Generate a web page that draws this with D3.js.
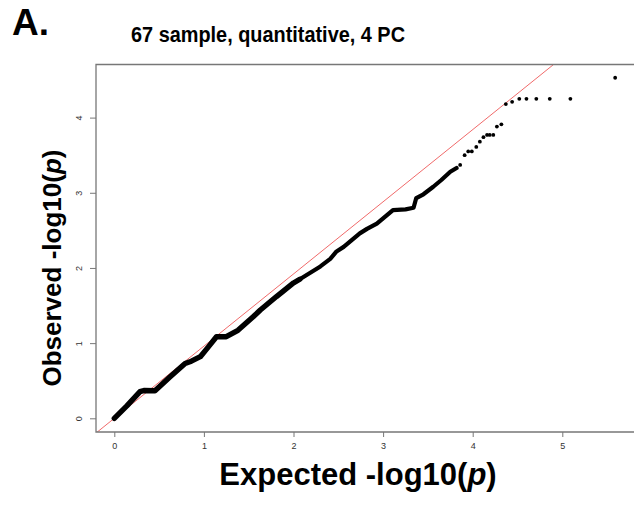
<!DOCTYPE html>
<html><head><meta charset="utf-8">
<script src="https://cdn.jsdelivr.net/npm/d3@7"></script>
<style>body{margin:0;background:#fff}svg{display:block}</style>
</head><body>
<svg id="c" width="634" height="506"></svg>
<script>
// ---- data ----
const xTicks = [0, 1, 2, 3, 4, 5];
const yTicks = [0, 1, 2, 3, 4];
// dense part of the QQ curve (expected, observed)
const denseExpected = [0, 0.14, 0.287, 0.33, 0.454, 0.62, 0.79, 0.86, 0.96, 1.05, 1.14, 1.25, 1.38, 1.55, 1.63, 1.81, 2.0, 2.07, 2.30, 2.41, 2.48, 2.56, 2.74, 2.82, 2.93, 3.04, 3.11, 3.25, 3.34, 3.37, 3.45, 3.56, 3.65, 3.75, 3.82];
const denseObserved = [0, 0.165, 0.354, 0.37, 0.367, 0.55, 0.73, 0.76, 0.82, 0.95, 1.085, 1.085, 1.17, 1.35, 1.44, 1.62, 1.80, 1.85, 2.02, 2.12, 2.22, 2.28, 2.46, 2.52, 2.59, 2.70, 2.77, 2.78, 2.80, 2.93, 2.98, 3.08, 3.17, 3.28, 3.33];
// sparse tail points
const tailExpected = [3.86, 3.91, 3.95, 3.99, 4.04, 4.08, 4.12, 4.16, 4.19, 4.23, 4.27, 4.32, 4.37, 4.44, 4.52, 4.60, 4.71, 4.86, 5.09, 5.59];
const tailObserved = [3.37, 3.50, 3.55, 3.55, 3.61, 3.68, 3.74, 3.77, 3.77, 3.77, 3.88, 3.91, 4.18, 4.21, 4.25, 4.25, 4.25, 4.25, 4.25, 4.53];
// reference line observed = intercept + slope * expected
const refIntercept = 0;
const refSlope = 0.96;
const titleText = "67 sample, quantitative, 4 PC";
const panelLabel = "A.";

// ---- layout ----
const svg = d3.select("#c");
const box = {left: 96, right: 650, top: 64.5, bottom: 432};
const x = d3.scaleLinear().domain([0, 5]).range([114.3, 562.3]);
const y = d3.scaleLinear().domain([0, 4]).range([418.3, 117.6]);

svg.append("defs").append("clipPath").attr("id", "clip")
  .append("rect").attr("x", box.left).attr("y", box.top)
  .attr("width", box.right - box.left).attr("height", box.bottom - box.top);

const plot = svg.append("g").attr("clip-path", "url(#clip)");

// reference line
const xa = x.invert(box.left), xb = x.invert(box.right);
plot.append("line")
  .attr("x1", x(xa)).attr("y1", y(refIntercept + refSlope * xa))
  .attr("x2", x(xb)).attr("y2", y(refIntercept + refSlope * xb))
  .attr("stroke", "#f06a6a").attr("stroke-width", 1);

// dense curve: thicker lower part, thinner upper part
const dense = denseExpected.map((e, i) => [e, denseObserved[i]]);
const lineGen = d3.line().x(d => x(d[0])).y(d => y(d[1]));
const lower = dense.filter(d => d[0] <= 2.07);
const upper = dense.filter(d => d[0] >= 2.0);
plot.append("path").datum(upper)
  .attr("d", lineGen)
  .attr("fill", "none").attr("stroke", "#000").attr("stroke-width", 4.2)
  .attr("stroke-linejoin", "round").attr("stroke-linecap", "round");
plot.append("path").datum(lower)
  .attr("d", lineGen)
  .attr("fill", "none").attr("stroke", "#000").attr("stroke-width", 5.4)
  .attr("stroke-linejoin", "round").attr("stroke-linecap", "round");

// tail points
const tail = tailExpected.map((e, i) => [e, tailObserved[i]]);
plot.selectAll("circle.tail").data(tail).enter().append("circle")
  .attr("cx", d => x(d[0])).attr("cy", d => y(d[1])).attr("r", 1.9).attr("fill", "#000");

// box
const axisColor = "#777";
svg.append("path")
  .attr("d", `M${box.right},${box.top}H${box.left}V${box.bottom}H${box.right}`)
  .attr("fill", "none").attr("stroke", axisColor).attr("stroke-width", 1.3);

// x axis
const xAxis = d3.axisBottom(x).tickValues(xTicks).tickSize(5).tickPadding(6).tickFormat(d3.format("d"));
const gx = svg.append("g").attr("transform", `translate(0,${box.bottom})`).call(xAxis);
gx.select(".domain").remove();
gx.selectAll("line").attr("stroke", axisColor);
gx.selectAll("text").attr("font-family", "Liberation Sans, Arial, sans-serif").attr("font-size", 9).attr("fill", "#333");

// y axis
const yAxis = d3.axisLeft(y).tickValues(yTicks).tickSize(6).tickPadding(0).tickFormat(d3.format("d"));
const gy = svg.append("g").attr("transform", `translate(${box.left},0)`).call(yAxis);
gy.select(".domain").remove();
gy.selectAll("line").attr("stroke", axisColor);
gy.selectAll("text").remove();
gy.selectAll(".tick").append("text")
  .attr("transform", "translate(-17,0) rotate(-90)")
  .attr("text-anchor", "middle").attr("dy", "0.35em")
  .attr("font-family", "Liberation Sans, Arial, sans-serif").attr("font-size", 9).attr("fill", "#333")
  .text(d => d);

// titles
svg.append("text").attr("x", 12).attr("y", 35)
  .attr("font-family", "Liberation Sans, Arial, sans-serif").attr("font-weight", "bold").attr("font-size", 37)
  .text(panelLabel);
svg.append("text").attr("x", 131).attr("y", 42)
  .attr("font-family", "Liberation Sans Narrow, Arial Narrow, Liberation Sans, sans-serif").attr("font-weight", "bold").attr("font-size", 22)
  .attr("textLength", 274).attr("lengthAdjust", "spacingAndGlyphs")
  .text(titleText);

const xl = svg.append("text").attr("x", 358).attr("y", 485).attr("text-anchor", "middle")
  .attr("font-family", "Liberation Sans, Arial, sans-serif").attr("font-weight", "bold").attr("font-size", 31);
xl.append("tspan").text("Expected -log10(");
xl.append("tspan").attr("font-style", "italic").text("p");
xl.append("tspan").text(")");

const yl = svg.append("text").attr("transform", "translate(61,268) rotate(-90)").attr("text-anchor", "middle")
  .attr("font-family", "Liberation Sans, Arial, sans-serif").attr("font-weight", "bold").attr("font-size", 26);
yl.append("tspan").text("Observed -log10(");
yl.append("tspan").attr("font-style", "italic").text("p");
yl.append("tspan").text(")");
</script>
</body></html>
